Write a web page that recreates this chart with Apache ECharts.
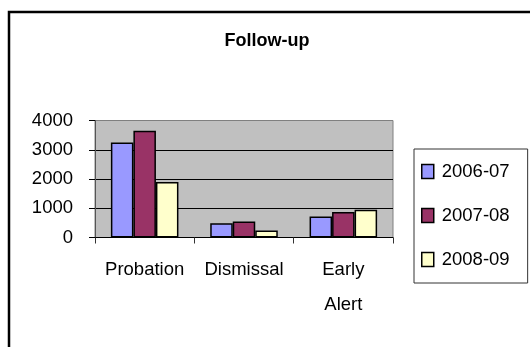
<!DOCTYPE html>
<html>
<head>
<meta charset="utf-8">
<script src="https://cdn.jsdelivr.net/npm/echarts@6/dist/echarts.min.js"></script>
<style>
  html, body { margin: 0; padding: 0; background: #fff; }
  #chart { width: 530px; height: 347px; }
</style>
</head>
<body>
<div id="chart"></div>
<script>
const categories = ['Probation', 'Dismissal', 'Early\nAlert']
const seriesNames = ['2006-07', '2007-08', '2008-09']
const values0607 = [3250, 490, 720]
const values0708 = [3650, 550, 870]
const values0809 = [1900, 240, 950]
const yTicks = [0, 1000, 2000, 3000, 4000]

const colors = ['#9999ff', '#993366', '#ffffcc']
const font = 'Liberation Sans, Arial, sans-serif'

const mkSeries = (name, data, i) => ({
  name,
  type: 'bar',
  data,
  barGap: 0,
  barCategoryGap: '32%',
  itemStyle: { color: colors[i], borderColor: '#000', borderWidth: 1.5 },
  emphasis: { disabled: true }
})

const chart = echarts.init(document.getElementById('chart'))
chart.setOption({
  animation: false,
  graphic: [{
    type: 'rect',
    shape: { x: 9, y: 12, width: 600, height: 400 },
    style: { fill: 'none', stroke: '#000', lineWidth: 2.5 },
    silent: true
  }],
  title: {
    text: 'Follow-up',
    left: 262,
    textAlign: 'center',
    top: 27,
    textStyle: { fontFamily: font, fontSize: 18, fontWeight: 'bold', color: '#000' }
  },
  legend: {
    orient: 'vertical',
    left: 414,
    top: 149,
    padding: [13, 18, 14, 7],
    itemGap: 25,
    itemWidth: 12,
    itemHeight: 14,
    icon: 'rect',
    borderColor: '#333',
    borderWidth: 1,
    backgroundColor: '#fff',
    textStyle: { fontFamily: font, fontSize: 18.5, color: '#000', padding: [0, 0, 6, 3] },
    itemStyle: { borderColor: '#000', borderWidth: 1.5 },
    data: seriesNames
  },
  grid: {
    left: 95,
    top: 120.5,
    width: 298,
    height: 117,
    show: true,
    backgroundColor: '#c0c0c0',
    borderColor: '#808080',
    borderWidth: 1
  },
  xAxis: {
    type: 'category',
    data: categories,
    axisLine: { lineStyle: { color: '#000', width: 1 } },
    axisTick: { show: true, length: 6, interval: 0, lineStyle: { color: '#333' } },
    axisLabel: {
      interval: 0,
      margin: 15,
      lineHeight: 35,
      color: '#000',
      fontFamily: font,
      fontSize: 18.5
    }
  },
  yAxis: {
    type: 'value',
    min: yTicks[0],
    max: yTicks[yTicks.length - 1],
    interval: 1000,
    axisLine: { show: true, lineStyle: { color: '#555' } },
    axisTick: { show: true, length: 6, lineStyle: { color: '#000' } },
    splitLine: { lineStyle: { color: ['#000', '#000', '#000', '#000', '#808080'], width: 1 } },
    axisLabel: {
      margin: 22,
      color: '#000',
      fontFamily: font,
      fontSize: 18.5,
      padding: [0, 0, 6, 0],
      formatter: v => String(v)
    }
  },
  series: [
    mkSeries(seriesNames[0], values0607, 0),
    mkSeries(seriesNames[1], values0708, 1),
    mkSeries(seriesNames[2], values0809, 2)
  ]
})
</script>
</body>
</html>
